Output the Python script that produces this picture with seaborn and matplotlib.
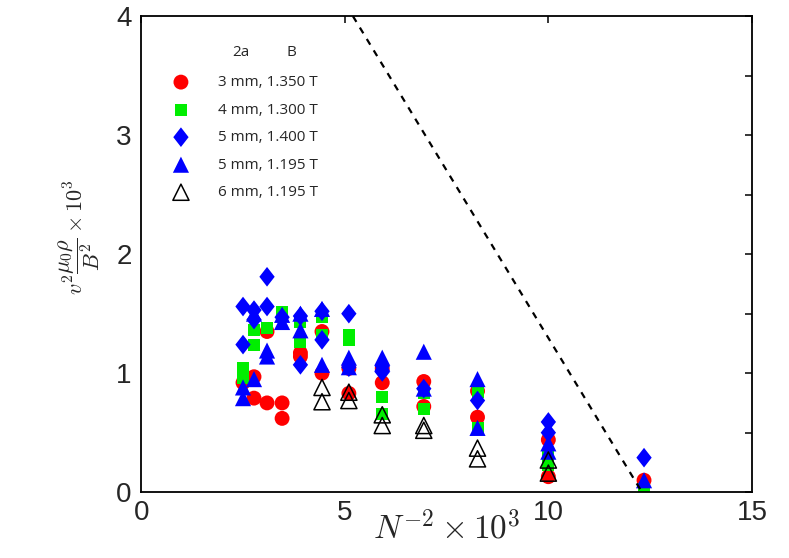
import numpy as np
import pandas as pd
import seaborn as sns
import matplotlib.pyplot as plt
from matplotlib.ticker import MultipleLocator, FixedLocator

# N^-2 x 10^3 for N = 20 ... 9
# red circles: 3 mm, 1.350 T
red_x = [2.5, 2.77, 2.77, 3.09, 3.09, 3.46, 3.46, 3.91, 3.91, 4.44, 4.44, 5.10, 5.10,
         5.92, 5.92, 6.94, 6.94, 8.26, 8.26, 10.0, 10.0, 12.35]
red_y = [0.92, 0.97, 0.79, 1.35, 0.75, 0.75, 0.62, 1.17, 1.14, 1.35, 1.00, 1.04, 0.83,
         1.04, 0.92, 0.93, 0.72, 0.85, 0.63, 0.44, 0.13, 0.10]

# green squares: 4 mm, 1.300 T
green_x = [2.5, 2.5, 2.77, 2.77, 3.09, 3.46, 3.91, 3.91, 4.44, 4.44, 5.10, 5.10,
           5.92, 5.92, 6.94, 6.94, 8.26, 8.26, 10.0, 10.0, 12.35]
green_y = [1.04, 0.96, 1.36, 1.24, 1.38, 1.51, 1.43, 1.26, 1.47, 1.32, 1.32, 1.28,
           0.80, 0.66, 0.83, 0.70, 0.84, 0.54, 0.23, 0.30, 0.03]

# blue diamonds: 5 mm, 1.400 T
dia_x = [2.5, 2.5, 2.77, 2.77, 3.09, 3.09, 3.46, 3.91, 3.91, 4.44, 4.44, 5.10, 5.10,
         5.92, 5.92, 6.94, 8.26, 10.0, 10.0, 12.35]
dia_y = [1.56, 1.24, 1.53, 1.45, 1.81, 1.56, 1.47, 1.07, 1.48, 1.28, 1.52, 1.50, 1.05,
         1.01, 1.06, 0.87, 0.77, 0.59, 0.50, 0.29]

# blue triangles: 5 mm, 1.195 T
tri_x = [2.5, 2.5, 2.77, 2.77, 3.09, 3.09, 3.46, 3.46, 3.91, 3.91, 4.44, 4.44, 5.10, 5.10,
         5.92, 5.92, 6.94, 6.94, 8.26, 8.26, 10.0, 10.0, 12.35]
tri_y = [0.88, 0.79, 0.95, 1.50, 1.19, 1.14, 1.49, 1.43, 1.50, 1.36, 1.54, 1.07, 1.13, 1.05,
         1.13, 1.08, 1.18, 0.87, 0.95, 0.54, 0.41, 0.34, 0.10]

# open triangles: 6 mm, 1.195 T
open_x = [4.44, 4.44, 5.10, 5.10, 5.92, 5.92, 6.94, 6.94, 8.26, 8.26, 10.0, 10.0]
open_y = [0.88, 0.76, 0.84, 0.77, 0.65, 0.56, 0.56, 0.52, 0.37, 0.28, 0.27, 0.16]

labels = ['3 mm, 1.350 T', '4 mm, 1.300 T', '5 mm, 1.400 T', '5 mm, 1.195 T', '6 mm, 1.195 T']

# dashed limit line
line_x = [5.2, 12.3]
line_y = [4.0, 0.0]

sns.set_style('white')
plt.rcParams['font.family'] = ['Liberation Sans', 'DejaVu Sans']
plt.rcParams['mathtext.fontset'] = 'cm'

fig = plt.figure(figsize=(7.89, 5.58), dpi=100)
ax = fig.add_axes([0.179, 0.118, 0.774, 0.853])

# matlab-like diamond, a bit taller than wide
diamond = [(0, 1), (0.78, 0), (0, -1), (-0.78, 0), (0, 1)]

sns.scatterplot(x=red_x, y=red_y, ax=ax, marker='o', s=115, color='#ff0000',
                edgecolor='none', label=labels[0])
sns.scatterplot(x=green_x, y=green_y, ax=ax, marker='s', s=75, color='#00ee00',
                edgecolor='none', label=labels[1])
sns.scatterplot(x=dia_x, y=dia_y, ax=ax, marker=diamond, s=200, color='#0000ff',
                edgecolor='none', label=labels[2])
sns.scatterplot(x=tri_x, y=tri_y, ax=ax, marker='^', s=135, color='#0000ff',
                edgecolor='none', label=labels[3])
sns.scatterplot(x=open_x, y=open_y, ax=ax, marker='^', s=135, facecolor='none',
                edgecolor='black', linewidth=1.1, label=labels[4])
ax.plot(line_x, line_y, color='black', linestyle=(0, (3, 3)), linewidth=1.6)

ax.set_xlim(0, 15)
ax.set_ylim(0, 4)
ax.xaxis.set_major_locator(FixedLocator([0, 5, 10, 15]))
ax.yaxis.set_major_locator(MultipleLocator(1))
ax.yaxis.set_minor_locator(MultipleLocator(0.5))
ax.tick_params(which='both', direction='in', top=True, right=True, length=5, width=1.1,
               labelsize=20, color='black')
ax.tick_params(axis='y', pad=7)
ax.tick_params(axis='x', pad=6)
for sp in ax.spines.values():
    sp.set_visible(True)
    sp.set_color('black')
    sp.set_linewidth(1.3)

ax.set_xlabel(r'$N^{-2}\times 10^3$', fontsize=24)
ax.xaxis.set_label_coords(0.5, -0.04)
ax.set_ylabel(r'$v^2\dfrac{\mu_0\rho}{B^2}\times 10^3$', fontsize=16)
ax.yaxis.set_label_coords(-0.065, 0.535)

leg = ax.legend(loc='upper left', bbox_to_anchor=(0.03, 0.889), frameon=False,
                labelspacing=0.82, handletextpad=1.4, borderaxespad=0,
                prop={'family': ['Open Sans', 'DejaVu Sans'], 'size': 11})
ax.text(0.149, 0.924, '2a', transform=ax.transAxes, fontsize=11,
        family=['Open Sans', 'DejaVu Sans'], va='center')
ax.text(0.238, 0.924, 'B', transform=ax.transAxes, fontsize=11,
        family=['Open Sans', 'DejaVu Sans'], va='center')

fig.savefig('out.png', dpi=100)
